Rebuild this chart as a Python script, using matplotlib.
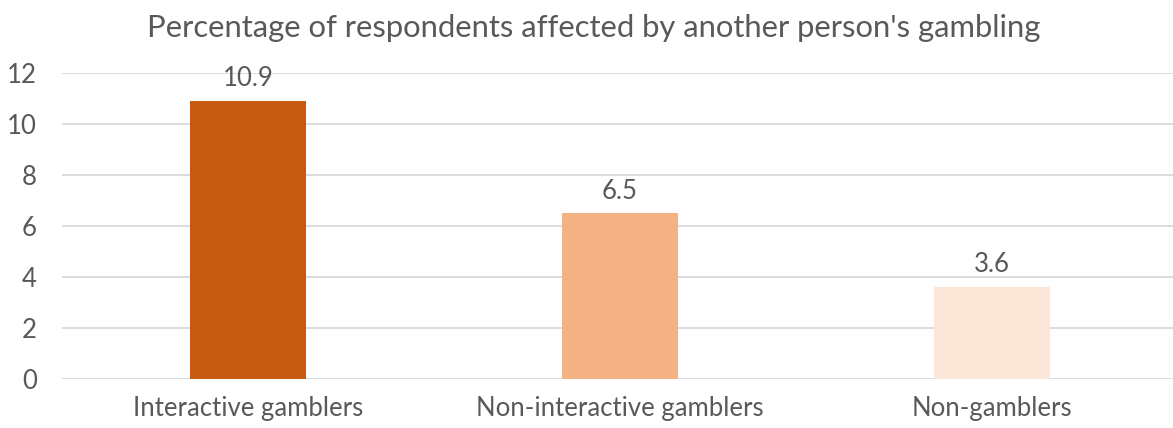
import matplotlib
matplotlib.use("Agg")
import matplotlib.pyplot as plt

categories = ["Interactive gamblers", "Non-interactive gamblers", "Non-gamblers"]
values = [10.9, 6.5, 3.6]
colors = ["#C55A11", "#F4B183", "#FBE5D6"]
yticks = [0, 2, 4, 6, 8, 10, 12]
title = "Percentage of respondents affected by another person's gambling"

plt.rcParams['font.family'] = ['Lato', 'DejaVu Sans']
text_color = "#595959"

fig = plt.figure(figsize=(11.73, 4.28), dpi=100)
ax = fig.add_axes([62/1173, 1 - 379/428, 1 - 62/1173, (379 - 73)/428])

x = list(range(len(categories)))
bars = ax.bar(x, values, width=0.312, color=colors, zorder=3)
for xi, v in zip(x, values):
    ax.annotate(f"{v}", (xi, v), xytext=(0, 7), textcoords="offset points",
                ha="center", va="bottom", fontsize=18.5, color=text_color)

ax.set_ylim(0, 12)
ax.set_xlim(-0.5, 2 + (1173 - 992) / 372)
ax.set_yticks(yticks)
ax.set_xticks(x)
ax.set_xticklabels(categories)
ax.yaxis.grid(True, color="#D9D9D9", linewidth=1.3, zorder=0)
ax.tick_params(axis="both", length=0, labelsize=18.5, colors=text_color)
ax.tick_params(axis="y", pad=18)
ax.tick_params(axis="x", pad=12)
for s in ax.spines.values():
    s.set_visible(False)

fig.text(594/1173, 1 - 28/428, title, ha="center", va="center", fontsize=22.3, color=text_color)

fig.savefig("out.png", dpi=100, facecolor="white")
